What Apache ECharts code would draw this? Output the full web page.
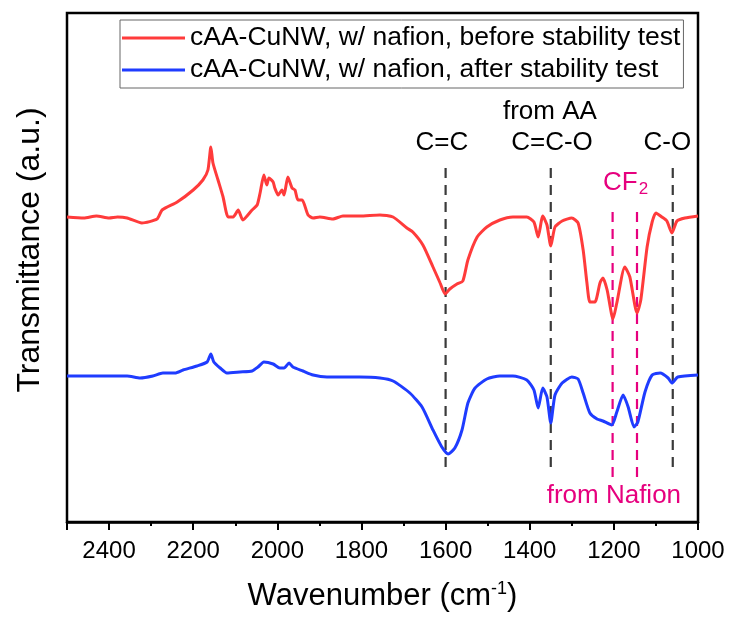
<!DOCTYPE html>
<html>
<head>
<meta charset="utf-8">
<script src="https://cdn.jsdelivr.net/npm/echarts@6/dist/echarts.min.js"></script>
<style>
  html, body { margin: 0; padding: 0; background: #fff; }
  #chart { width: 731px; height: 618px; }
</style>
</head>
<body>
<div id="chart"></div>
<script>
  // wavenumber (cm-1) and transmittance (a.u.)
  const redWn = [2500, 2460, 2430, 2400, 2380, 2357, 2322, 2286, 2274, 2238, 2200, 2177, 2165, 2158, 2153, 2141, 2129, 2117, 2105, 2093, 2082, 2060, 2048, 2041, 2032, 2025, 2020, 2010, 2006, 1998, 1989, 1984, 1975, 1965, 1958, 1951, 1941, 1927, 1915, 1899, 1868, 1844, 1804, 1756, 1725, 1692, 1678, 1654, 1630, 1613, 1601, 1590, 1573, 1559, 1547, 1525, 1502, 1471, 1440, 1407, 1390, 1380, 1369, 1359, 1350, 1340, 1323, 1300, 1285, 1273, 1264, 1257, 1245, 1233, 1226, 1216, 1202, 1193, 1174, 1162, 1145, 1136, 1121, 1109, 1100, 1086, 1074, 1062, 1050, 1031, 1000]
  const redT = [305, 304, 306, 304, 305, 304, 299, 303, 312, 320, 332, 342, 352, 375, 359, 342, 325, 305, 305, 312, 302, 312, 317, 329, 347, 337, 344, 340, 334, 327, 332, 327, 345, 334, 332, 322, 322, 307, 304, 305, 303, 306, 306, 307, 305, 294, 290, 277, 255, 239, 228, 233, 238, 241, 262, 285, 295, 302, 305, 305, 300, 285, 306, 297, 276, 295, 301, 304, 299, 272, 239, 220, 220, 239, 244, 232, 203, 219, 255, 245, 209, 222, 275, 300, 309, 305, 301, 289, 301, 304, 306]

  const blueWn = [2500, 2438, 2357, 2326, 2296, 2272, 2255, 2243, 2224, 2191, 2167, 2158, 2151, 2136, 2120, 2089, 2060, 2046, 2032, 2010, 1994, 1984, 1972, 1963, 1939, 1915, 1882, 1804, 1756, 1725, 1685, 1656, 1630, 1609, 1594, 1578, 1561, 1547, 1530, 1502, 1471, 1440, 1407, 1390, 1380, 1369, 1359, 1350, 1340, 1323, 1300, 1285, 1273, 1257, 1240, 1226, 1205, 1193, 1178, 1166, 1152, 1143, 1126, 1109, 1090, 1071, 1062, 1048, 1000]
  const blueT = [146, 146, 146, 144, 146, 149, 149, 149, 152, 156, 160, 168, 160, 154, 149, 150, 151, 155, 160, 158, 154, 154, 159, 155, 151, 147, 145, 145, 144, 141, 129, 115, 92, 75, 68, 74, 92, 119, 134, 143, 146, 146, 142, 132, 114, 134, 125, 99, 127, 139, 145, 143, 129, 109, 103, 101, 97, 110, 127, 115, 95, 100, 130, 147, 149, 144, 139, 145, 147]

  const seriesNames = [
    'cAA-CuNW, w/ nafion, before stability test',
    'cAA-CuNW, w/ nafion, after stability test'
  ]

  // assignment lines
  const bandLines = [1600, 1350, 1060]
  const bandRange = [55, 358]
  const nafionLines = [1203, 1145]
  const nafionRange = [45, 317]

  // annotation texts: [wavenumber, transmittance, text]
  const blackNotes = [
    [1352, 410, 'from AA'],
    [1609, 379, 'C=C'],
    [1347, 379, 'C=C-O'],
    [1073, 379, 'C-O']
  ]
  const pinkNotes = [
    [1172, 339, '{a|CF}{b|2}'],
    [1200, 26, 'from Nafion']
  ]

  const zip = (xs, ys) => xs.map((x, i) => [x, ys[i]])
  const font = 'Liberation Sans, Arial, sans-serif'

  const chart = echarts.init(document.getElementById('chart'))

  const dashSeries = (xs, range, color) => xs.map((x) => ({
    type: 'line',
    data: [[x, range[0]], [x, range[1]]],
    symbol: 'none',
    silent: true,
    z: 1,
    lineStyle: { color: color, width: 2.2, type: [10, 7] }
  }))

  const option = {
    animation: false,
    grid: {
      left: 67, right: 33, top: 13, bottom: 96,
      show: true, borderColor: '#000', borderWidth: 2.5
    },
    legend: {
      orient: 'vertical',
      left: 120, top: 20,
      padding: [3, 3, 3, 2],
      itemGap: 2,
      itemWidth: 63, itemHeight: 3,
      icon: 'rect',
      borderColor: '#666', borderWidth: 1,
      textStyle: { fontFamily: font, fontSize: 26.5, color: '#000', lineHeight: 30 },
      data: seriesNames
    },
    xAxis: {
      type: 'value',
      inverse: true,
      min: 1000, max: 2500, interval: 200,
      name: 'Wavenumber (cm{sup|-1})',
      nameLocation: 'middle',
      nameGap: 58,
      nameTextStyle: {
        fontFamily: font, fontSize: 31, color: '#000',
        rich: { sup: { fontFamily: font, fontSize: 18, color: '#000', verticalAlign: 'top', padding: [0, 0, 14, 0] } }
      },
      axisLine: { lineStyle: { color: '#000', width: 2.5 } },
      axisTick: { length: 8, lineStyle: { color: '#000', width: 2 } },
      minorTick: { show: true, splitNumber: 2, length: 4, lineStyle: { color: '#000', width: 2 } },
      axisLabel: { fontFamily: font, fontSize: 24, color: '#000', margin: 17, formatter: (v) => String(v) },
      splitLine: { show: false }
    },
    yAxis: {
      type: 'value',
      min: 0, max: 509,
      axisLine: { show: false },
      axisTick: { show: false },
      axisLabel: { show: false },
      splitLine: { show: false }
    },
    series: [
      {
        name: seriesNames[0],
        type: 'line',
        data: zip(redWn, redT),
        symbol: 'none',
        smooth: 0.2,
        z: 3,
        color: '#FF3B3B',
        lineStyle: { color: '#FF3B3B', width: 3 }
      },
      {
        name: seriesNames[1],
        type: 'line',
        data: zip(blueWn, blueT),
        symbol: 'none',
        smooth: 0.2,
        z: 3,
        color: '#1F3CFF',
        lineStyle: { color: '#1F3CFF', width: 3 }
      },
      ...dashSeries(bandLines, bandRange, '#3a3a3a'),
      ...dashSeries(nafionLines, nafionRange, '#E6007E')
    ]
  }

  chart.setOption(option)

  const noteText = (note, color) => {
    const p = chart.convertToPixel({ gridIndex: 0 }, [note[0], note[1]])
    return {
      type: 'text',
      x: p[0], y: p[1],
      style: {
        text: note[2],
        fill: color,
        font: '26px ' + font,
        align: 'center',
        verticalAlign: 'middle',
        rich: {
          a: { fontFamily: font, fontSize: 26, fill: color },
          b: { fontFamily: font, fontSize: 17, fill: color, verticalAlign: 'bottom', padding: [12, 0, 0, 1] }
        }
      }
    }
  }

  chart.setOption({
    graphic: [
      {
        type: 'text',
        x: 30, y: 250,
        rotation: Math.PI / 2,
        style: {
          text: 'Transmittance (a.u.)',
          font: '32px ' + font,
          fill: '#000',
          align: 'center',
          verticalAlign: 'middle'
        }
      },
      ...blackNotes.map((n) => noteText(n, '#000')),
      ...pinkNotes.map((n) => noteText(n, '#E6007E'))
    ]
  })
</script>
</body>
</html>
